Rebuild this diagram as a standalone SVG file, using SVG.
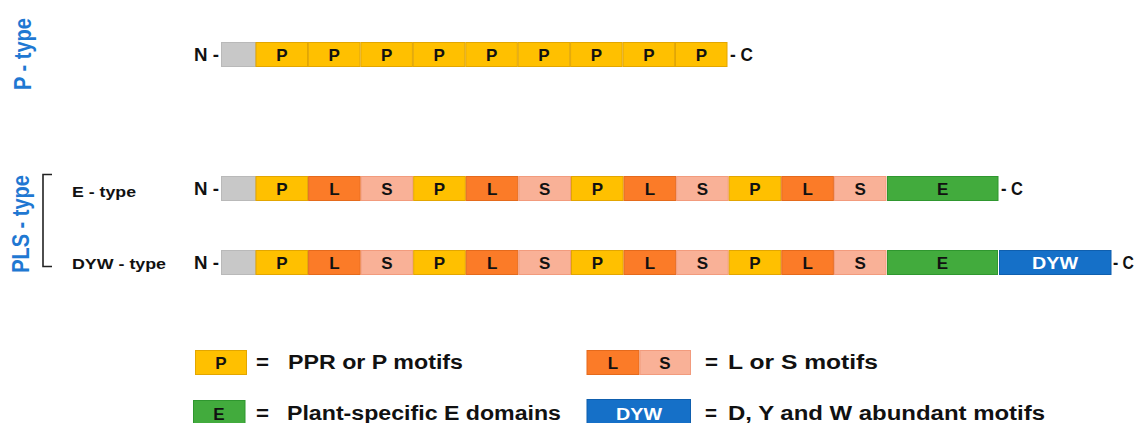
<svg xmlns="http://www.w3.org/2000/svg" width="1137" height="423" viewBox="0 0 1137 423">
<style>
text{font-family:"Liberation Sans",Arial,sans-serif;font-weight:bold;}
.lbl{font-size:17px;fill:#111;text-anchor:middle;}
.wl{font-size:17px;fill:#fff;text-anchor:middle;}
.term{font-size:18px;fill:#111;}
.sub{font-size:15px;fill:#111;}
.leg{font-size:20px;fill:#111;}
.blue{font-size:20px;fill:#1f78d2;text-anchor:middle;}
.g{fill:#c8c8c8;stroke:#b9b9b9;stroke-width:1;}
.p{fill:#ffc000;stroke:#e3a600;stroke-width:1;}
.l{fill:#fb7b28;stroke:#e56a1c;stroke-width:1;}
.s{fill:#f9b197;stroke:#f29b7d;stroke-width:1;}
.e{fill:#42ab3d;stroke:#2f972f;stroke-width:1;}
.d{fill:#1570c8;stroke:#0f5fae;stroke-width:1;}
</style>

<g id="labels">
  <text class="blue" transform="translate(31,54) scale(1.18,1) rotate(-90)">P - type</text>
  <text class="blue" transform="translate(29,224) scale(1.18,1) rotate(-90)">PLS - type</text>
  <path d="M52,174.5 H43 V266.5 H52" fill="none" stroke="#222" stroke-width="1.6"/>
  <text class="sub" x="72" y="197" textLength="64" lengthAdjust="spacingAndGlyphs">E - type</text>
  <text class="sub" x="72" y="269" textLength="94" lengthAdjust="spacingAndGlyphs">DYW - type</text>
</g>

<g id="ptype">
  <text class="term" x="194" y="60.5" textLength="25" lengthAdjust="spacingAndGlyphs">N -</text>
  <rect class="g" x="221.5" y="42.5" width="34" height="24"/>
  <rect class="p" x="256" y="42.5" width="51.5" height="24"/>
  <rect class="p" x="308.4" y="42.5" width="51.5" height="24"/>
  <rect class="p" x="360.9" y="42.5" width="51.5" height="24"/>
  <rect class="p" x="413.3" y="42.5" width="51.5" height="24"/>
  <rect class="p" x="465.8" y="42.5" width="51.5" height="24"/>
  <rect class="p" x="518.2" y="42.5" width="51.5" height="24"/>
  <rect class="p" x="570.6" y="42.5" width="51.5" height="24"/>
  <rect class="p" x="623.1" y="42.5" width="51.5" height="24"/>
  <rect class="p" x="675.5" y="42.5" width="51.5" height="24"/>
  <text class="lbl" x="281.8" y="60.5">P</text>
  <text class="lbl" x="334.2" y="60.5">P</text>
  <text class="lbl" x="386.7" y="60.5">P</text>
  <text class="lbl" x="439.1" y="60.5">P</text>
  <text class="lbl" x="491.6" y="60.5">P</text>
  <text class="lbl" x="544" y="60.5">P</text>
  <text class="lbl" x="596.4" y="60.5">P</text>
  <text class="lbl" x="648.9" y="60.5">P</text>
  <text class="lbl" x="701.3" y="60.5">P</text>
  <text class="term" x="730" y="60.5" textLength="23" lengthAdjust="spacingAndGlyphs">- C</text>
</g>

<g id="etype">
  <text class="term" x="194" y="195" textLength="25" lengthAdjust="spacingAndGlyphs">N -</text>
  <rect class="g" x="221.5" y="176.5" width="34" height="24"/>
  <rect class="p" x="256" y="176.5" width="51.6" height="24"/>
  <rect class="l" x="308.6" y="176.5" width="51.6" height="24"/>
  <rect class="s" x="361.2" y="176.5" width="51.6" height="24"/>
  <rect class="p" x="413.7" y="176.5" width="51.6" height="24"/>
  <rect class="l" x="466.3" y="176.5" width="51.6" height="24"/>
  <rect class="s" x="518.9" y="176.5" width="51.6" height="24"/>
  <rect class="p" x="571.5" y="176.5" width="51.6" height="24"/>
  <rect class="l" x="624.1" y="176.5" width="51.6" height="24"/>
  <rect class="s" x="676.6" y="176.5" width="51.6" height="24"/>
  <rect class="p" x="729.2" y="176.5" width="51.6" height="24"/>
  <rect class="l" x="781.8" y="176.5" width="51.6" height="24"/>
  <rect class="s" x="834.4" y="176.5" width="51.6" height="24"/>
  <rect class="e" x="887.5" y="176.5" width="110.5" height="24"/>
  <text class="lbl" x="281.8" y="195">P</text>
  <text class="lbl" x="334.4" y="195">L</text>
  <text class="lbl" x="387" y="195">S</text>
  <text class="lbl" x="439.5" y="195">P</text>
  <text class="lbl" x="492.1" y="195">L</text>
  <text class="lbl" x="544.7" y="195">S</text>
  <text class="lbl" x="597.3" y="195">P</text>
  <text class="lbl" x="649.9" y="195">L</text>
  <text class="lbl" x="702.4" y="195">S</text>
  <text class="lbl" x="755" y="195">P</text>
  <text class="lbl" x="807.6" y="195">L</text>
  <text class="lbl" x="860.2" y="195">S</text>
  <text class="lbl" x="942.7" y="195">E</text>
  <text class="term" x="1001" y="195" textLength="22" lengthAdjust="spacingAndGlyphs">- C</text>
</g>

<g id="dywtype">
  <text class="term" x="194" y="269" textLength="25" lengthAdjust="spacingAndGlyphs">N -</text>
  <rect class="g" x="221.5" y="250.5" width="34" height="24"/>
  <rect class="p" x="256" y="250.5" width="51.6" height="24"/>
  <rect class="l" x="308.6" y="250.5" width="51.6" height="24"/>
  <rect class="s" x="361.2" y="250.5" width="51.6" height="24"/>
  <rect class="p" x="413.7" y="250.5" width="51.6" height="24"/>
  <rect class="l" x="466.3" y="250.5" width="51.6" height="24"/>
  <rect class="s" x="518.9" y="250.5" width="51.6" height="24"/>
  <rect class="p" x="571.5" y="250.5" width="51.6" height="24"/>
  <rect class="l" x="624.1" y="250.5" width="51.6" height="24"/>
  <rect class="s" x="676.6" y="250.5" width="51.6" height="24"/>
  <rect class="p" x="729.2" y="250.5" width="51.6" height="24"/>
  <rect class="l" x="781.8" y="250.5" width="51.6" height="24"/>
  <rect class="s" x="834.4" y="250.5" width="51.6" height="24"/>
  <rect class="e" x="887.5" y="250.5" width="110" height="24"/>
  <rect class="d" x="999.5" y="250.5" width="111.5" height="24"/>
  <text class="lbl" x="281.8" y="269">P</text>
  <text class="lbl" x="334.4" y="269">L</text>
  <text class="lbl" x="387" y="269">S</text>
  <text class="lbl" x="439.5" y="269">P</text>
  <text class="lbl" x="492.1" y="269">L</text>
  <text class="lbl" x="544.7" y="269">S</text>
  <text class="lbl" x="597.3" y="269">P</text>
  <text class="lbl" x="649.9" y="269">L</text>
  <text class="lbl" x="702.4" y="269">S</text>
  <text class="lbl" x="755" y="269">P</text>
  <text class="lbl" x="807.6" y="269">L</text>
  <text class="lbl" x="860.2" y="269">S</text>
  <text class="lbl" x="942.5" y="269">E</text>
  <text class="wl" x="1032" y="269" textLength="46" lengthAdjust="spacingAndGlyphs" style="text-anchor:start">DYW</text>
  <text class="term" x="1113" y="269" textLength="21" lengthAdjust="spacingAndGlyphs">- C</text>
</g>

<g id="legend">
  <rect class="p" x="195.5" y="350.5" width="51" height="24"/>
  <text class="lbl" x="221" y="368.5">P</text>
  <text class="leg" x="256" y="369" textLength="13" lengthAdjust="spacingAndGlyphs">=</text>
  <text class="leg" x="288" y="369" textLength="175" lengthAdjust="spacingAndGlyphs">PPR or P motifs</text>

  <rect class="l" x="587" y="350.5" width="52" height="24"/>
  <rect class="s" x="640" y="350.5" width="50.5" height="24"/>
  <text class="lbl" x="613" y="368.5">L</text>
  <text class="lbl" x="665" y="368.5">S</text>
  <text class="leg" x="705" y="369" textLength="13" lengthAdjust="spacingAndGlyphs">=</text>
  <text class="leg" x="728" y="369" textLength="150" lengthAdjust="spacingAndGlyphs">L or S motifs</text>

  <rect class="e" x="193.5" y="400.5" width="51.5" height="26"/>
  <text class="lbl" x="219" y="419.5">E</text>
  <text class="leg" x="256" y="419.5" textLength="13" lengthAdjust="spacingAndGlyphs">=</text>
  <text class="leg" x="287" y="419.5" textLength="274" lengthAdjust="spacingAndGlyphs">Plant-specific E domains</text>

  <rect class="d" x="587" y="399.5" width="103.5" height="27"/>
  <text class="wl" x="616" y="419.5" textLength="46" lengthAdjust="spacingAndGlyphs" style="text-anchor:start">DYW</text>
  <text class="leg" x="705" y="419.5" textLength="12" lengthAdjust="spacingAndGlyphs">=</text>
  <text class="leg" x="728" y="419.5" textLength="317" lengthAdjust="spacingAndGlyphs">D, Y and W abundant motifs</text>
</g>
</svg>
